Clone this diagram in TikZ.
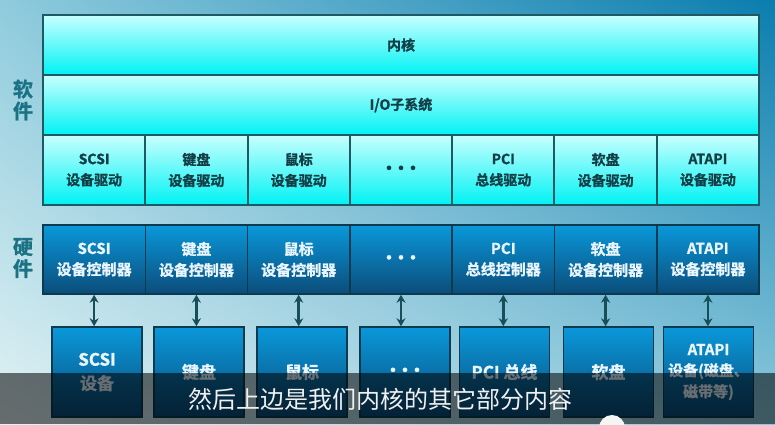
\documentclass[tikz,border=0pt]{standalone}
\usepackage{fontspec}
\setmainfont{Noto Sans CJK SC}[BoldFont={Noto Sans CJK SC Bold}, BoldFeatures={FakeBold=1.2}]
\usetikzlibrary{arrows.meta,shadings}
\definecolor{bgul}{HTML}{8ECBDD}
\definecolor{bgur}{HTML}{0A7DAE}
\definecolor{bgll}{HTML}{E2F2F4}
\definecolor{bglr}{HTML}{8CC8DC}
\definecolor{swtop}{HTML}{C8FFFF}
\definecolor{swbot}{HTML}{00F2F4}
\definecolor{swline}{HTML}{1D5A64}
\definecolor{swtext}{HTML}{123E46}
\definecolor{hwtop}{HTML}{0A98DA}
\definecolor{hwbot}{HTML}{0B4C7A}
\definecolor{hwline}{HTML}{0C3A4E}
\definecolor{hwtext}{HTML}{EAF6FF}
\definecolor{sidetext}{HTML}{1A7284}
\definecolor{arrowc}{HTML}{174E58}
\tikzset{
	swrow/.style={draw=swline, line width=2pt, top color=swtop, bottom color=swbot, minimum width=716pt, minimum height=60pt, text=swtext, font=\bfseries\fontsize{14}{17}\selectfont},
	drvbox/.style={draw=swline, line width=2pt, top color=swtop, bottom color=swbot, minimum width=102.3pt, minimum height=70pt, align=center, text=swtext, font=\bfseries\fontsize{14}{21}\selectfont},
	ctlbox/.style={draw=hwline, line width=1.5pt, top color=hwtop, bottom color=hwbot, minimum width=102.3pt, minimum height=69pt, align=center, text=hwtext, font=\bfseries\fontsize{15}{21}\selectfont},
	devbox/.style={draw=hwline, line width=1.5pt, top color=hwtop, bottom color=hwbot, minimum width=90pt, minimum height=90pt, align=center, text=hwtext, font=\bfseries\fontsize{17}{24}\selectfont},
	dots/.style={font=\bfseries\fontsize{17}{20}\selectfont},
	sidelabel/.style={text=sidetext, align=center, font=\bfseries\fontsize{20}{22}\selectfont},
	link/.style={draw=arrowc, line width=2.6pt, {Stealth[length=8pt,width=9pt]}-{Stealth[length=8pt,width=9pt]}}
}
\begin{document}
\begin{tikzpicture}[x=1pt, y=-1pt]
			%%%%% START %%%%%
			\useasboundingbox (0, 0) rectangle (775, 424);
			\clip (0, 0) rectangle (775, 424);
			\shade[upper left=bgul, upper right=bgur, lower left=bgll, lower right=bglr] (0, 0) rectangle (775, 424);
			
			%%%%% software
			\node[sidelabel] (soft) at (23, 100) {软\\件};
			\node[swrow] (kern) at (401, 45) {内核};
			\node[swrow] (iosys) at (401, 105) {I/O子系统};
			
			\node[drvbox] (drv1) at (94.1, 170) {SCSI\\设备驱动};
			\node[drvbox] (drv2) at (196.4, 170) {键盘\\设备驱动};
			\node[drvbox] (drv3) at (298.7, 170) {鼠标\\设备驱动};
			\node[drvbox, dots] (drv4) at (401, 170) {•\kern-5pt•\kern-5pt•};
			\node[drvbox] (drv5) at (503.3, 170) {PCI\\总线驱动};
			\node[drvbox] (drv6) at (605.6, 170) {软盘\\设备驱动};
			\node[drvbox] (drv7) at (707.9, 170) {ATAPI\\设备驱动};
			
			%%%%% hardware
			\node[sidelabel] (hard) at (23, 258) {硬\\件};
			\node[ctlbox] (ctl1) at (94.1, 259.5) {SCSI\\设备控制器};
			\node[ctlbox] (ctl2) at (196.4, 259.5) {键盘\\设备控制器};
			\node[ctlbox] (ctl3) at (298.7, 259.5) {鼠标\\设备控制器};
			\node[ctlbox, dots] (ctl4) at (401, 259.5) {•\kern-5pt•\kern-5pt•};
			\node[ctlbox] (ctl5) at (503.3, 259.5) {PCI\\总线控制器};
			\node[ctlbox] (ctl6) at (605.6, 259.5) {软盘\\设备控制器};
			\node[ctlbox] (ctl7) at (707.9, 259.5) {ATAPI\\设备控制器};
			
			%%%%% devices
			\node[devbox] (dev1) at (97, 372) {SCSI\\设备};
			\node[devbox] (dev2) at (199, 372) {键盘};
			\node[devbox] (dev3) at (302, 372) {鼠标};
			\node[devbox, dots] (dev4) at (405, 372) {•\kern-5pt•\kern-5pt•};
			\node[devbox] (dev5) at (504.5, 372) {PCI 总线};
			\node[devbox] (dev6) at (608.5, 372) {软盘};
			\node[devbox, font=\bfseries\fontsize{15}{21}\selectfont] (dev7) at (708.5, 372) {ATAPI\\设备(磁盘、\\磁带等)};
			
			\draw[link] (ctl1.south) -- (ctl1.south |- dev1.north);
			\draw[link] (ctl2.south) -- (ctl2.south |- dev2.north);
			\draw[link] (ctl3.south) -- (ctl3.south |- dev3.north);
			\draw[link] (ctl4.south) -- (ctl4.south |- dev4.north);
			\draw[link] (ctl5.south) -- (ctl5.south |- dev5.north);
			\draw[link] (ctl6.south) -- (ctl6.south |- dev6.north);
			\draw[link] (ctl7.south) -- (ctl7.south |- dev7.north);
			
			%%%%% subtitle
			\fill[black, opacity=0.55] (0, 373) rectangle (775, 424);
			\node[text=white!94!black, font=\fontsize{24}{28}\selectfont] (caption) at (380, 399) {然后上边是我们内核的其它部分内容};
			\fill[white!92!gray] (612, 428) circle (13);
			
			%%%%% END %%%%%
		\end{tikzpicture}
\end{document}
